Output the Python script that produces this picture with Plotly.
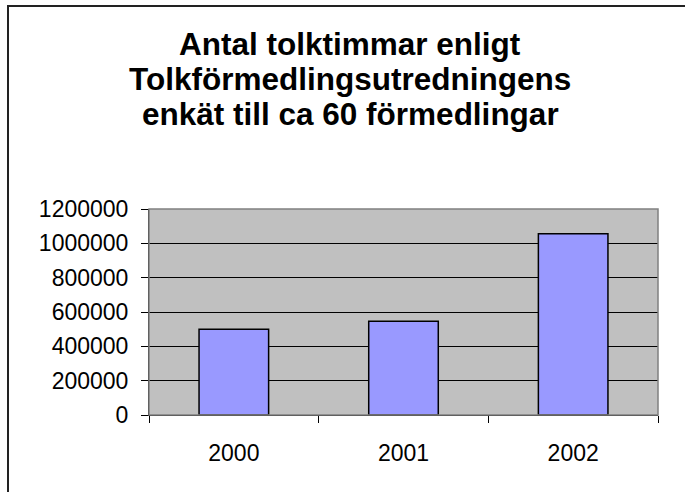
import plotly.graph_objects as go

years = ["2000", "2001", "2002"]
hours = [500000, 546000, 1056000]
title_lines = [
    "Antal tolktimmar enligt",
    "Tolkförmedlingsutredningens",
    "enkät till ca 60 förmedlingar",
]

W, H = 685, 492
L, R, T, B = 149, 27, 209, 77
pw, ph = W - L - R, H - T - B

def px_x(x):
    return (x - L) / pw

def px_y(y):
    return (H - B - y) / ph

fig = go.Figure(
    go.Bar(
        x=years,
        y=hours,
        marker=dict(color="#9999FF", line=dict(color="black", width=1.5)),
    )
)

annotations = []
for i, line in enumerate(title_lines):
    annotations.append(dict(
        text="<b>" + line + "</b>",
        x=px_x(350), y=px_y(43.5 + 35 * i),
        xref="paper", yref="paper",
        xanchor="center", yanchor="middle",
        showarrow=False,
        font=dict(family="Liberation Sans, Arial, sans-serif", size=31.5, color="black"),
    ))

shapes = [
    dict(type="rect", xref="paper", yref="paper", x0=0, x1=1, y0=0, y1=1,
         line=dict(color="#808080", width=1.5), layer="above"),
    dict(type="line", xref="paper", yref="paper",
         x0=px_x(8), x1=px_x(8), y0=px_y(5), y1=px_y(500),
         line=dict(color="#222222", width=2)),
    dict(type="line", xref="paper", yref="paper",
         x0=px_x(7), x1=px_x(700), y0=px_y(6), y1=px_y(6),
         line=dict(color="#222222", width=2)),
]

fig.update_layout(
    width=W, height=H,
    margin=dict(l=L, r=R, t=T, b=B, pad=0),
    paper_bgcolor="white",
    plot_bgcolor="#C0C0C0",
    bargap=0.59,
    showlegend=False,
    annotations=annotations,
    shapes=shapes,
    font=dict(family="Liberation Sans, Arial, sans-serif", color="black"),
)

fig.update_xaxes(
    type="category",
    showline=True, linecolor="black", linewidth=1,
    ticks="outside", tickson="boundaries", ticklen=7, tickcolor="black", tickwidth=1,
    tickfont=dict(size=23, color="black"),
    showgrid=False,
    ticklabelstandoff=17,
)

fig.update_yaxes(
    range=[0, 1200000], dtick=200000, tickformat="d",
    showline=True, linecolor="black", linewidth=1,
    ticks="outside", ticklen=7, tickcolor="black", tickwidth=1,
    tickfont=dict(size=23, color="black"),
    showgrid=True, gridcolor="black", gridwidth=1,
    zeroline=False,
    ticklabelstandoff=8,
)

fig.write_html("out.html", config={"displayModeBar": False},
               post_script="document.body.style.margin='0';")
